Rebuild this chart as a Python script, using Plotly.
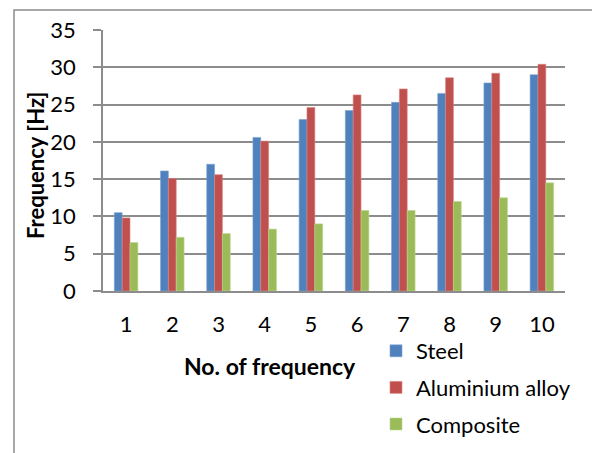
import plotly.graph_objects as go

categories = ["1", "2", "3", "4", "5", "6", "7", "8", "9", "10"]
steel = [10.5, 16.1, 17.0, 20.6, 23.0, 24.2, 25.3, 26.5, 27.9, 29.0]
aluminium = [9.8, 15.1, 15.6, 20.1, 24.6, 26.3, 27.1, 28.6, 29.2, 30.4]
composite = [6.5, 7.2, 7.7, 8.3, 9.0, 10.8, 10.8, 12.0, 12.5, 14.5]

series_names = ["Steel", "Aluminium alloy", "Composite"]
series_values = [steel, aluminium, composite]
colors = ["#4F81BD", "#C0504D", "#9BBB59"]
edge_colors = ["#7FA3D2", "#D88684", "#BCD68E"]

W, H = 592, 453
L, R, T, B = 103, 27, 30, 162
pw, ph = W - L - R, H - T - B

def px_x(x):
    return (x - L) / pw

def px_y(y):
    return (H - B - y) / ph

FONT = "Lato"
FS = 22
grid = "#8C8C8C"

fig = go.Figure()
for name, vals, c, ec in zip(series_names, series_values, colors, edge_colors):
    fig.add_trace(go.Bar(
        x=categories, y=vals, name=name, legendgroup=name,
        marker=dict(color=c, line=dict(color=ec, width=0.6)),
    ))

fig.update_layout(
    width=W, height=H,
    margin=dict(l=L, r=R, t=T, b=B, autoexpand=False),
    paper_bgcolor="white", plot_bgcolor="white",
    barmode="group", bargap=0.49, bargroupgap=0,
    font=dict(family=FONT, size=FS, color="black"),
    showlegend=True,
    legend=dict(
        x=px_x(376), y=px_y(330), xanchor="left", yanchor="top",
        font=dict(family=FONT, size=FS, color="black"),
        tracegroupgap=5, bgcolor="rgba(0,0,0,0)",
    ),
    xaxis=dict(
        type="category", showgrid=False, showline=True, linecolor=grid, linewidth=1.5,
        ticks="", tickfont=dict(family=FONT, size=FS, color="black"),
        ticklabelstandoff=13,
    ),
    yaxis=dict(
        range=[0, 35], dtick=5, showgrid=True, gridcolor=grid, gridwidth=1.5,
        showline=True, linecolor=grid, linewidth=1.5,
        ticks="outside", ticklen=8, tickcolor=grid, tickwidth=1.5,
        tickfont=dict(family=FONT, size=FS, color="black"),
        ticklabelstandoff=13, zeroline=False,
    ),
    annotations=[
        dict(text="<b>No. of frequency</b>", xref="paper", yref="paper",
             x=px_x(270), y=px_y(366), xanchor="center", yanchor="middle",
             showarrow=False, font=dict(family=FONT, size=23, color="black")),
        dict(text="<b>Frequency [Hz]</b>", xref="paper", yref="paper",
             x=px_x(35), y=px_y(166), xanchor="center", yanchor="middle",
             textangle=-90, showarrow=False,
             font=dict(family=FONT, size=FS, color="black")),
    ],
    shapes=[
        dict(type="rect", xref="paper", yref="paper",
             x0=px_x(14), x1=px_x(620), y0=px_y(480), y1=px_y(10),
             line=dict(color="#8C8C8C", width=1.5), fillcolor="rgba(0,0,0,0)",
             layer="below"),
    ],
)

fig.write_html("out.html")
